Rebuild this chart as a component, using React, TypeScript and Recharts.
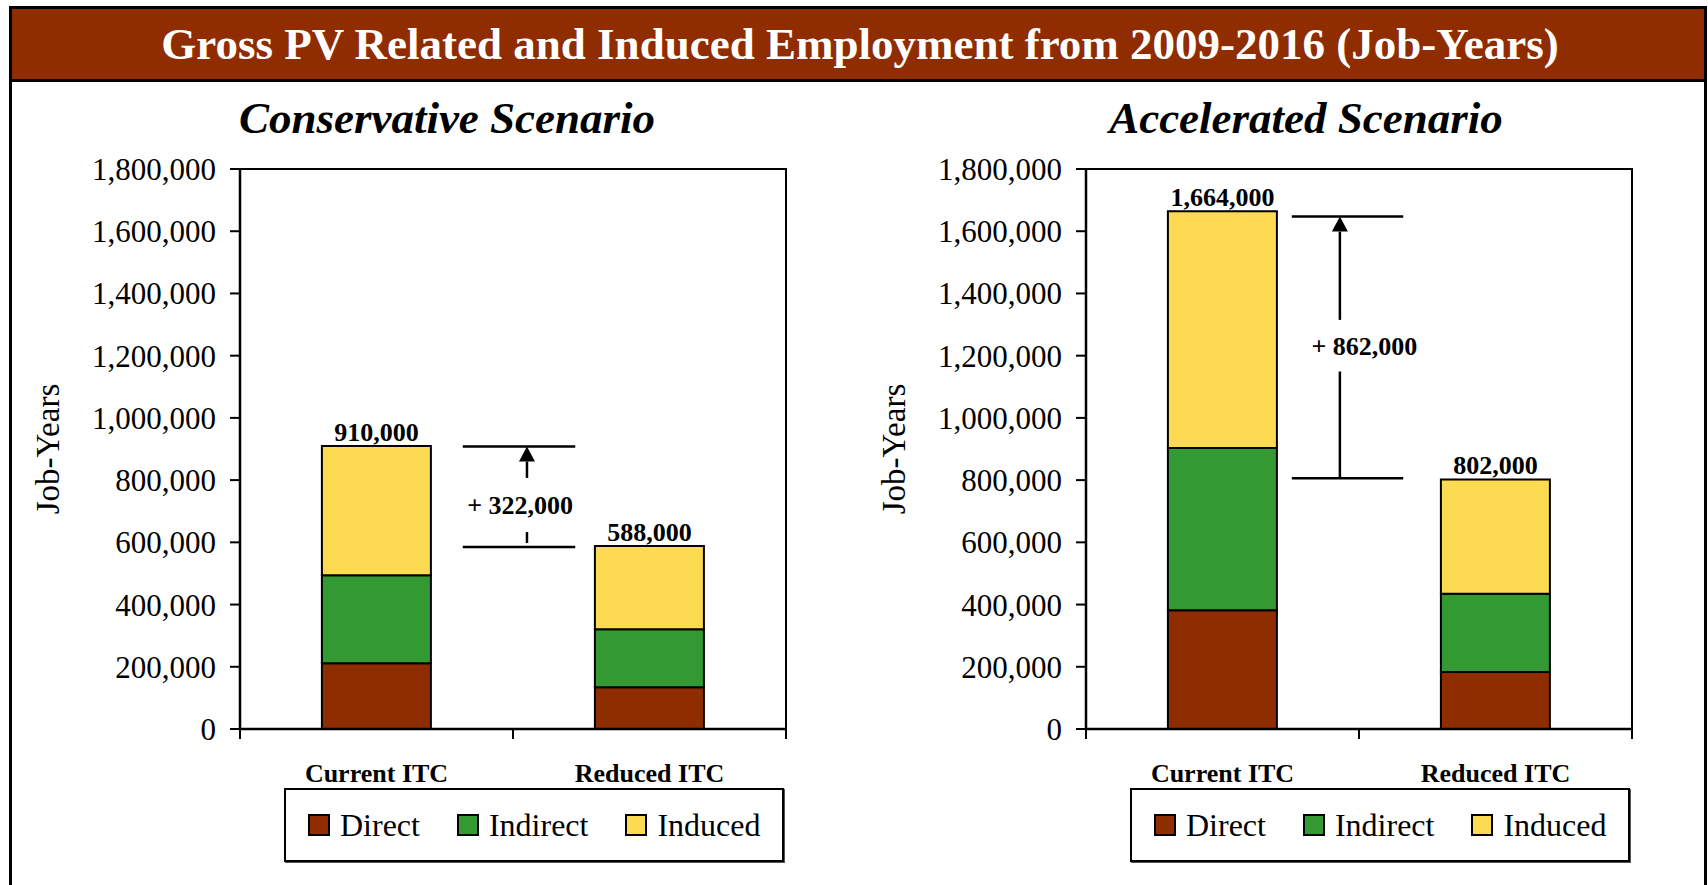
import React from 'react';
import {
  BarChart,
  Bar,
  XAxis,
  YAxis,
  LabelList,
  Legend,
  ReferenceLine,
  ReferenceDot,
  ReferenceArea,
} from 'recharts';

const categories = ['Current ITC', 'Reduced ITC'];

// Conservative scenario, job-years
const conservativeDirect = [211000, 134000];
const conservativeIndirect = [283000, 187000];
const conservativeInduced = [416000, 267000];
const conservativeTotals = [910000, 588000];

// Accelerated scenario, job-years
const acceleratedDirect = [382000, 183000];
const acceleratedIndirect = [521000, 252000];
const acceleratedInduced = [761000, 367000];
const acceleratedTotals = [1664000, 802000];

const yTicks = [0, 200000, 400000, 600000, 800000, 1000000, 1200000, 1400000, 1600000, 1800000];
// plot width runs 0..1: category edges at 0, 0.5, 1 and category centres at 0.25, 0.75
const xTicks = [0, 0.25, 0.5, 0.75, 1];

// bracket between the two totals: [top line, bottom line, arrow tail, text, lower stub top, lower stub bottom]
const conservativeBracket = [908000, 585000, 807000, 720000, 633000, 598000];
const acceleratedBracket = [1647000, 806000, 1315000, 1232000, 1149000, 806000];
const conservativeGain = '+ 322,000';
const acceleratedGain = '+ 862,000';

const SERIF = '"Liberation Serif", "Times New Roman", serif';
const DIRECT = '#8f2d00';
const INDIRECT = '#339933';
const INDUCED = '#fcdb52';

const fmt = (v: number) => Number(v).toLocaleString('en-US');

function buildRows(direct: number[], indirect: number[], induced: number[], totals: number[]) {
  return categories.map((name, i) => ({
    name,
    direct: direct[i],
    indirect: indirect[i],
    induced: induced[i],
    total: totals[i],
  }));
}

// edge ticks are short lines, centre ticks carry the category name
function EdgeTick(props: any) {
  const { x, y, payload } = props;
  const idx = payload.value * categories.length - 0.5;
  if (Number.isInteger(idx)) {
    return (
      <text
        x={x}
        y={y + 53}
        textAnchor="middle"
        fontFamily={SERIF}
        fontSize={26}
        fontWeight="bold"
        fill="#000"
      >
        {categories[idx]}
      </text>
    );
  }
  return <line x1={x} y1={y} x2={x} y2={y + 10} stroke="#000" strokeWidth={2} />;
}

function ArrowUp(props: any) {
  const { x1, y1, x2, y2 } = props;
  const head = 15;
  return (
    <g>
      <line x1={x1} y1={y1} x2={x2} y2={y2 + head} stroke="#000" strokeWidth={2.5} />
      <polygon points={`${x2},${y2} ${x2 - 8},${y2 + head} ${x2 + 8},${y2 + head}`} fill="#000" />
    </g>
  );
}

function YLabel(props: any) {
  const { viewBox } = props;
  const cx = viewBox.x + 48;
  const cy = viewBox.y + viewBox.height / 2;
  return (
    <text
      x={cx}
      y={cy}
      transform={`rotate(-90, ${cx}, ${cy})`}
      textAnchor="middle"
      dominantBaseline="central"
      fontFamily={SERIF}
      fontSize={33}
      fill="#000"
    >
      Job-Years
    </text>
  );
}

function LegendBox(props: any) {
  const { payload = [] } = props;
  return (
    <div
      style={{
        border: '2px solid #000',
        boxShadow: '1px 1px 0 #555',
        height: 74,
        boxSizing: 'border-box',
        display: 'flex',
        alignItems: 'center',
        paddingLeft: 22,
        fontFamily: SERIF,
        fontSize: 32,
        color: '#000',
        background: '#fff',
      }}
    >
      {payload.map((entry: any) => (
        <div key={entry.value} style={{ display: 'flex', alignItems: 'center', marginRight: 37 }}>
          <span
            style={{
              width: 18,
              height: 18,
              background: entry.color,
              border: '2px solid #000',
              marginRight: 10,
            }}
          />
          <span>{entry.value}</span>
        </div>
      ))}
    </div>
  );
}

interface PanelProps {
  left: number;
  title: string;
  titleCenter: number;
  rows: Record<string, string | number>[];
  bracket: number[];
  gain: string;
  lineX: [number, number];
  arrowX: number;
  textX: number;
}

function Panel({ left, title, titleCenter, rows, bracket, gain, lineX, arrowX, textX }: PanelProps) {
  const [top, bottom, tail, textY, stubTop, stubBottom] = bracket;
  return (
    <div style={{ position: 'absolute', left, top: 0, width: 820, height: 885 }}>
      <div
        style={{
          position: 'absolute',
          left: titleCenter - 300,
          width: 600,
          top: 93,
          textAlign: 'center',
          fontFamily: SERIF,
          fontStyle: 'italic',
          fontWeight: 'bold',
          fontSize: 45,
          lineHeight: '50px',
          color: '#000',
        }}
      >
        {title}
      </div>
      <div style={{ position: 'absolute', left: 0, top: 140 }}>
        <BarChart
          width={820}
          height={745}
          data={rows}
          margin={{ top: 29, right: 34, bottom: 96, left: 0 }}
          barCategoryGap="30%"
          style={{ fontFamily: SERIF }}
        >
          <XAxis xAxisId="cat" dataKey="name" hide height={0} />
          <XAxis
            xAxisId="num"
            type="number"
            domain={[0, 1]}
            ticks={xTicks}
            interval={0}
            allowDataOverflow
            tick={<EdgeTick />}
            tickLine={false}
            tickSize={0}
            tickMargin={0}
            height={60}
            axisLine={{ stroke: '#000', strokeWidth: 2.5 }}
          />
          <YAxis
            width={240}
            domain={[0, 1800000]}
            ticks={yTicks}
            interval={0}
            tickFormatter={fmt}
            tickSize={10}
            tickMargin={14}
            axisLine={{ stroke: '#000', strokeWidth: 2.5 }}
            tickLine={{ stroke: '#000', strokeWidth: 2 }}
            tick={{ fontFamily: SERIF, fontSize: 31, fill: '#000' }}
            label={<YLabel />}
          />
          <ReferenceArea
            xAxisId="num"
            x1={0}
            x2={1}
            y1={0}
            y2={1800000}
            fill="none"
            fillOpacity={0}
            stroke="#000"
            strokeWidth={2}
            ifOverflow="visible"
          />
          <Bar xAxisId="cat" dataKey="direct" name="Direct" stackId="jobs" fill={DIRECT} stroke="#000" strokeWidth={2} isAnimationActive={false} />
          <Bar xAxisId="cat" dataKey="indirect" name="Indirect" stackId="jobs" fill={INDIRECT} stroke="#000" strokeWidth={2} isAnimationActive={false} />
          <Bar xAxisId="cat" dataKey="induced" name="Induced" stackId="jobs" fill={INDUCED} stroke="#000" strokeWidth={2} isAnimationActive={false}>
            <LabelList
              dataKey="total"
              position="top"
              offset={5}
              formatter={fmt}
              fontFamily={SERIF}
              fontSize={26}
              fontWeight="bold"
              fill="#000"
            />
          </Bar>
          <ReferenceLine
            xAxisId="num"
            segment={[{ x: lineX[0], y: top }, { x: lineX[1], y: top }]}
            stroke="#000"
            strokeWidth={2.5}
            ifOverflow="visible"
          />
          <ReferenceLine
            xAxisId="num"
            segment={[{ x: lineX[0], y: bottom }, { x: lineX[1], y: bottom }]}
            stroke="#000"
            strokeWidth={2.5}
            ifOverflow="visible"
          />
          <ReferenceLine
            xAxisId="num"
            segment={[{ x: arrowX, y: tail }, { x: arrowX, y: top }]}
            shape={ArrowUp}
            ifOverflow="visible"
          />
          <ReferenceLine
            xAxisId="num"
            segment={[{ x: arrowX, y: stubTop }, { x: arrowX, y: stubBottom }]}
            stroke="#000"
            strokeWidth={2.5}
            ifOverflow="visible"
          />
          <ReferenceDot
            xAxisId="num"
            x={textX}
            y={textY}
            r={0}
            fill="none"
            stroke="none"
            ifOverflow="visible"
            label={{
              value: gain,
              position: 'center',
              fontFamily: SERIF,
              fontSize: 26,
              fontWeight: 'bold',
              fill: '#000',
            }}
          />
          <Legend
            layout="horizontal"
            verticalAlign="middle"
            align="center"
            content={<LegendBox />}
            wrapperStyle={{ left: 284, top: 648, width: 500, height: 74 }}
          />
        </BarChart>
      </div>
    </div>
  );
}

export default function App() {
  const conservativeRows = buildRows(conservativeDirect, conservativeIndirect, conservativeInduced, conservativeTotals);
  const acceleratedRows = buildRows(acceleratedDirect, acceleratedIndirect, acceleratedInduced, acceleratedTotals);

  return (
    <div
      style={{
        position: 'absolute',
        left: 0,
        top: 0,
        width: 1708,
        height: 885,
        overflow: 'hidden',
        background: '#fff',
      }}
    >
      <div
        style={{
          position: 'absolute',
          left: 9,
          top: 6,
          width: 1698,
          height: 900,
          border: '3px solid #000',
          boxSizing: 'border-box',
        }}
      >
        <div
          style={{
            height: 70,
            background: DIRECT,
            borderBottom: '3px solid #000',
            color: '#fff',
            fontFamily: SERIF,
            fontWeight: 'bold',
            fontSize: 45,
            lineHeight: '70px',
            textAlign: 'center',
            paddingLeft: 4,
          }}
        >
          Gross PV Related and Induced Employment from 2009-2016 (Job-Years)
        </div>
      </div>
      <Panel
        left={0}
        title="Conservative Scenario"
        titleCenter={447}
        rows={conservativeRows}
        bracket={conservativeBracket}
        gain={conservativeGain}
        lineX={[0.408, 0.614]}
        arrowX={0.5256}
        textX={0.513}
      />
      <Panel
        left={846}
        title="Accelerated Scenario"
        titleCenter={460}
        rows={acceleratedRows}
        bracket={acceleratedBracket}
        gain={acceleratedGain}
        lineX={[0.377, 0.581]}
        arrowX={0.465}
        textX={0.51}
      />
    </div>
  );
}
